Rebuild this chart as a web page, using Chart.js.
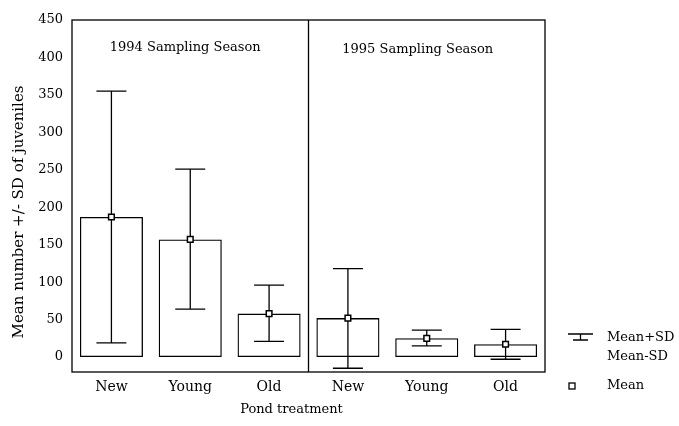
<!DOCTYPE html>
<html>
<head>
<meta charset="utf-8">
<script src="https://cdn.jsdelivr.net/npm/chart.js@4/dist/chart.umd.min.js"></script>
<style>
html, body { margin: 0; padding: 0; background: #fff; }
#wrap { width: 679px; height: 426px; }
</style>
</head>
<body>
<div id="wrap"><canvas id="chart"></canvas></div>
<script>
//======================================================================================================
// Data
//======================================================================================================
var categories = ['New', 'Young', 'Old', 'New', 'Young', 'Old'];
var seasons    = ['1994 Sampling Season', '1995 Sampling Season'];
var means      = [187, 157, 58, 52, 25, 17];
var sdUpper    = [355, 251, 96, 118, 36, 37];
var sdLower    = [19, 64, 21, -15, 15, -3];
var yTicks     = [0, 50, 100, 150, 200, 250, 300, 350, 400, 450];

var INK = '#000';
Chart.defaults.font.family = 'DejaVu Serif';
Chart.defaults.font.size = 13;
Chart.defaults.color = INK;

// Frame, season divider and SD whiskers (drawn under the boxes and mean markers)
var framePlugin = {
	id: 'frame',
	beforeDatasetsDraw: function(chart) {
		var ctx = chart.ctx, a = chart.chartArea, x = chart.scales.x, y = chart.scales.y;
		ctx.save();
		ctx.strokeStyle = INK;
		ctx.lineWidth = 1.3;
		ctx.strokeRect(a.left, a.top, a.right - a.left, a.bottom - a.top);
		var mid = x.getPixelForValue(2.5);
		ctx.beginPath();
		ctx.moveTo(mid, a.top);
		ctx.lineTo(mid, a.bottom);
		ctx.stroke();

		// whiskers
		var meta = chart.getDatasetMeta(0);
		meta.data.forEach(function(bar, i) {
			var cx = bar.x, top = y.getPixelForValue(sdUpper[i]), bot = y.getPixelForValue(sdLower[i]);
			ctx.beginPath();
			ctx.moveTo(cx, top); ctx.lineTo(cx, bot);
			ctx.moveTo(cx - 15, top); ctx.lineTo(cx + 15, top);
			ctx.moveTo(cx - 15, bot); ctx.lineTo(cx + 15, bot);
			ctx.stroke();
		});

		// season labels
		ctx.fillStyle = INK;
		ctx.font = '13px "DejaVu Serif"';
		ctx.textAlign = 'center';
		ctx.textBaseline = 'middle';
		ctx.fillText(seasons[0], x.getPixelForValue(1) - 5, a.top + 28);
		ctx.fillText(seasons[1], x.getPixelForValue(4) - 9, a.top + 30);
		ctx.restore();
	},
	afterDraw: function(chart) {
		var ctx = chart.ctx, a = chart.chartArea;
		ctx.save();
		ctx.fillStyle = INK;
		ctx.textAlign = 'center';
		ctx.textBaseline = 'middle';

		// axis titles
		ctx.font = '13px "DejaVu Serif"';
		ctx.fillText('Pond treatment', (a.left + a.right) / 2 - 17, 410);
		ctx.translate(19, (a.top + a.bottom) / 2 + 16);
		ctx.rotate(-Math.PI / 2);
		ctx.font = '15px "DejaVu Serif"';
		ctx.fillText('Mean number +/- SD of juveniles', 0, 0);
		ctx.setTransform(1, 0, 0, 1, 0, 0);

		// legend on the right
		var lx = a.right + 23;
		ctx.strokeStyle = INK;
		ctx.lineWidth = 1.3;
		ctx.beginPath();
		ctx.moveTo(lx, 334); ctx.lineTo(lx + 25, 334);
		ctx.moveTo(lx + 12.5, 334); ctx.lineTo(lx + 12.5, 340);
		ctx.moveTo(lx + 5, 340); ctx.lineTo(lx + 20, 340);
		ctx.stroke();
		ctx.strokeRect(lx + 1, 383, 6, 6);
		ctx.font = '13px "DejaVu Serif"';
		ctx.textAlign = 'left';
		ctx.fillText('Mean+SD', lx + 39, 338);
		ctx.fillText('Mean-SD', lx + 39, 357);
		ctx.fillText('Mean', lx + 39, 386);
		ctx.restore();
	}
};

new Chart(document.getElementById('chart'), {
	data: {
		labels: categories,
		datasets: [
			{
				type: 'bar',
				label: 'Mean',
				data: means,
				backgroundColor: 'rgba(0,0,0,0)',
				borderColor: INK,
				borderWidth: 1.3,
				borderSkipped: false,
				barPercentage: 0.8,
				categoryPercentage: 1.0,
				order: 2
			},
			{
				type: 'line',
				label: 'Mean marker',
				data: means,
				showLine: false,
				pointStyle: 'rect',
				pointRadius: 4,
				pointBackgroundColor: '#fff',
				pointBorderColor: INK,
				pointBorderWidth: 1.5,
				order: 1
			}
		]
	},
	options: {
		responsive: true,
		maintainAspectRatio: false,
		animation: false,
		events: [],
		layout: { padding: { top: 20, right: 134, bottom: 0, left: 0 } },
		plugins: {
			legend: { display: false },
			tooltip: { enabled: false }
		},
		scales: {
			x: {
				grid: { display: false, drawTicks: false },
				border: { display: false },
				ticks: { padding: 7, font: { size: 14 } },
				afterFit: function(s) { s.height = 54; }
			},
			y: {
				min: -20,
				max: 450,
				grid: { display: false, drawTicks: false },
				border: { display: false },
				ticks: { padding: 9 },
				afterBuildTicks: function(s) { s.ticks = yTicks.map(function(v) { return { value: v }; }); },
				afterFit: function(s) { s.width = 72; }
			}
		}
	},
	plugins: [framePlugin]
});
</script>
</body>
</html>
